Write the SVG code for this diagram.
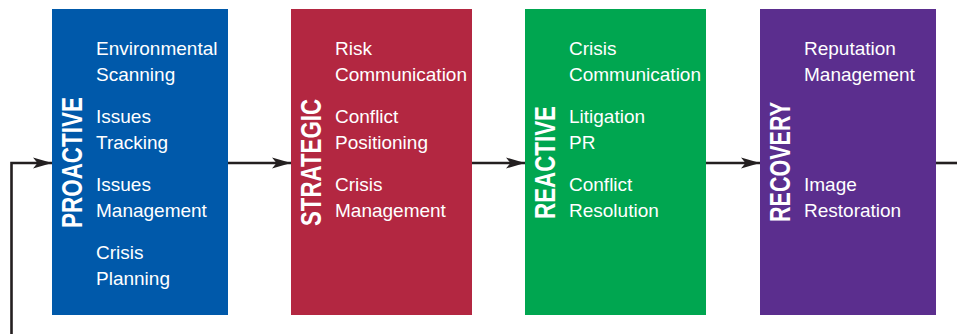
<svg xmlns="http://www.w3.org/2000/svg" width="957" height="334" viewBox="0 0 957 334">
  <style>
    .box-text { font-family: "Liberation Sans", Arial, sans-serif; font-size: 19px; fill: #ffffff; }
    .stage { font-family: "Liberation Sans", Arial, sans-serif; font-size: 29px; font-weight: bold; fill: #ffffff; text-anchor: middle; }
    .conn { stroke: #231f20; stroke-width: 2.6; fill: none; }
  </style>
  <defs>
    <marker id="arrow" markerUnits="userSpaceOnUse" markerWidth="20" markerHeight="12" refX="19" refY="6" orient="auto">
      <path d="M0,0.5 L19,6 L0,11.5 L4.5,6 Z" fill="#231f20"/>
    </marker>
  </defs>

  <g id="connectors">
    <path class="conn" d="M11.5,334 L11.5,163 L52,163" marker-end="url(#arrow)"/>
    <path class="conn" d="M228,163 L291,163" marker-end="url(#arrow)"/>
    <path class="conn" d="M472,163 L525,163" marker-end="url(#arrow)"/>
    <path class="conn" d="M706,163 L760,163" marker-end="url(#arrow)"/>
    <path class="conn" d="M936,163 L957,163"/>
  </g>

  <g id="proactive">
    <rect x="52" y="9" width="176" height="306" fill="#0059aa"/>
    <text class="stage" transform="translate(82,162.5) rotate(-90)" textLength="131" lengthAdjust="spacingAndGlyphs">PROACTIVE</text>
    <text class="box-text" x="96" y="55">Environmental</text>
    <text class="box-text" x="96" y="81">Scanning</text>
    <text class="box-text" x="96" y="123">Issues</text>
    <text class="box-text" x="96" y="149">Tracking</text>
    <text class="box-text" x="96" y="191">Issues</text>
    <text class="box-text" x="96" y="217">Management</text>
    <text class="box-text" x="96" y="259">Crisis</text>
    <text class="box-text" x="96" y="285">Planning</text>
  </g>

  <g id="strategic">
    <rect x="291" y="9" width="181" height="306" fill="#b32741"/>
    <text class="stage" transform="translate(321,162.5) rotate(-90)" textLength="127" lengthAdjust="spacingAndGlyphs">STRATEGIC</text>
    <text class="box-text" x="335" y="55">Risk</text>
    <text class="box-text" x="335" y="81">Communication</text>
    <text class="box-text" x="335" y="123">Conflict</text>
    <text class="box-text" x="335" y="149">Positioning</text>
    <text class="box-text" x="335" y="191">Crisis</text>
    <text class="box-text" x="335" y="217">Management</text>
  </g>

  <g id="reactive">
    <rect x="525" y="9" width="181" height="306" fill="#00a650"/>
    <text class="stage" transform="translate(555,162.5) rotate(-90)" textLength="113" lengthAdjust="spacingAndGlyphs">REACTIVE</text>
    <text class="box-text" x="569" y="55">Crisis</text>
    <text class="box-text" x="569" y="81">Communication</text>
    <text class="box-text" x="569" y="123">Litigation</text>
    <text class="box-text" x="569" y="149">PR</text>
    <text class="box-text" x="569" y="191">Conflict</text>
    <text class="box-text" x="569" y="217">Resolution</text>
  </g>

  <g id="recovery">
    <rect x="760" y="9" width="176" height="306" fill="#5b2e8e"/>
    <text class="stage" transform="translate(790,162) rotate(-90)" textLength="120" lengthAdjust="spacingAndGlyphs">RECOVERY</text>
    <text class="box-text" x="804" y="55">Reputation</text>
    <text class="box-text" x="804" y="81">Management</text>
    <text class="box-text" x="804" y="191">Image</text>
    <text class="box-text" x="804" y="217">Restoration</text>
  </g>
</svg>
